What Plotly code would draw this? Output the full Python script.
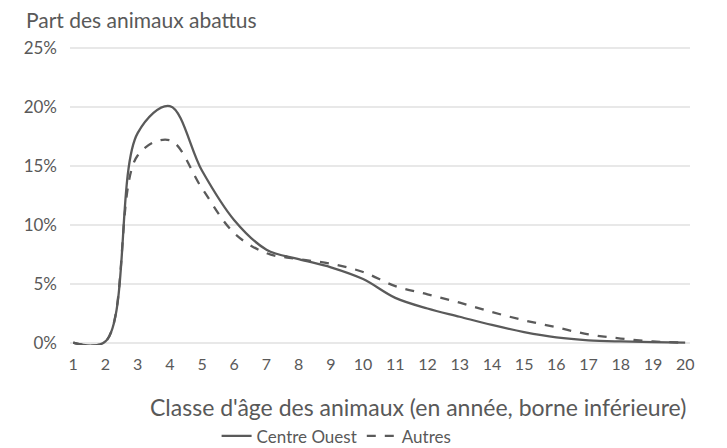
import plotly.graph_objects as go

ages = list(range(1, 21))
centre_ouest = [0.0, 0.1, 17.8, 20.1, 14.6, 10.4, 7.9, 7.1, 6.4, 5.4, 3.8, 2.9, 2.2, 1.5, 0.9, 0.45, 0.2, 0.1, 0.05, 0.0]
autres = [0.0, 0.1, 15.9, 17.2, 13.1, 9.3, 7.6, 7.1, 6.7, 6.0, 4.8, 4.1, 3.4, 2.6, 1.9, 1.3, 0.7, 0.35, 0.1, 0.0]
y_ticks = [0, 5, 10, 15, 20, 25]
y_labels = ["0%", "5%", "10%", "15%", "20%", "25%"]

txt = "#595959"
font = "Lato, 'Open Sans', sans-serif"

W, H = 719, 440

fig = go.Figure()
fig.add_trace(go.Scatter(x=ages, y=centre_ouest, name="Centre Ouest", mode="lines",
                         line=dict(color="#5a5a5a", width=2.3, shape="spline", smoothing=1.0)))
fig.add_trace(go.Scatter(x=ages, y=autres, name="Autres", mode="lines",
                         line=dict(color="#5a5a5a", width=2.3, dash="dash", shape="spline", smoothing=1.0)))

fig.update_layout(
    width=W, height=H,
    margin=dict(l=62, r=37, t=37.6, b=102.6, autoexpand=False),
    paper_bgcolor="white", plot_bgcolor="white",
    font=dict(family=font, color=txt, size=16),
    showlegend=True,
    legend=dict(orientation="h", x=0.43, xanchor="center", y=-0.3055, yanchor="middle",
                font=dict(size=17, color=txt)),
    title=dict(text="Part des animaux abattus", xref="container", yref="container",
               x=18 / W, y=1 - 13 / H, xanchor="left", yanchor="middle",
               font=dict(size=21, color=txt)),
    annotations=[dict(text="Classe d'âge des animaux (en année, borne inférieure)",
                      xref="paper", yref="paper", x=0.561, y=-0.209,
                      xanchor="center", yanchor="middle", showarrow=False,
                      font=dict(size=23, color=txt))],
)
fig.update_xaxes(range=[0.9, 20.15], tickvals=ages, ticktext=[str(a) for a in ages],
                 showgrid=False, zeroline=False, showline=False, ticks="", automargin=False,
                 tickfont=dict(size=16, color=txt), ticklabelstandoff=8)
fig.update_yaxes(range=[-0.2, 25.2], tickvals=y_ticks, ticktext=y_labels,
                 showgrid=True, gridcolor="#e8e8e8", gridwidth=1.5, zeroline=False,
                 showline=False, ticks="", automargin=False,
                 tickfont=dict(size=17, color=txt), ticklabelstandoff=12)

fig.write_html("out.html")
